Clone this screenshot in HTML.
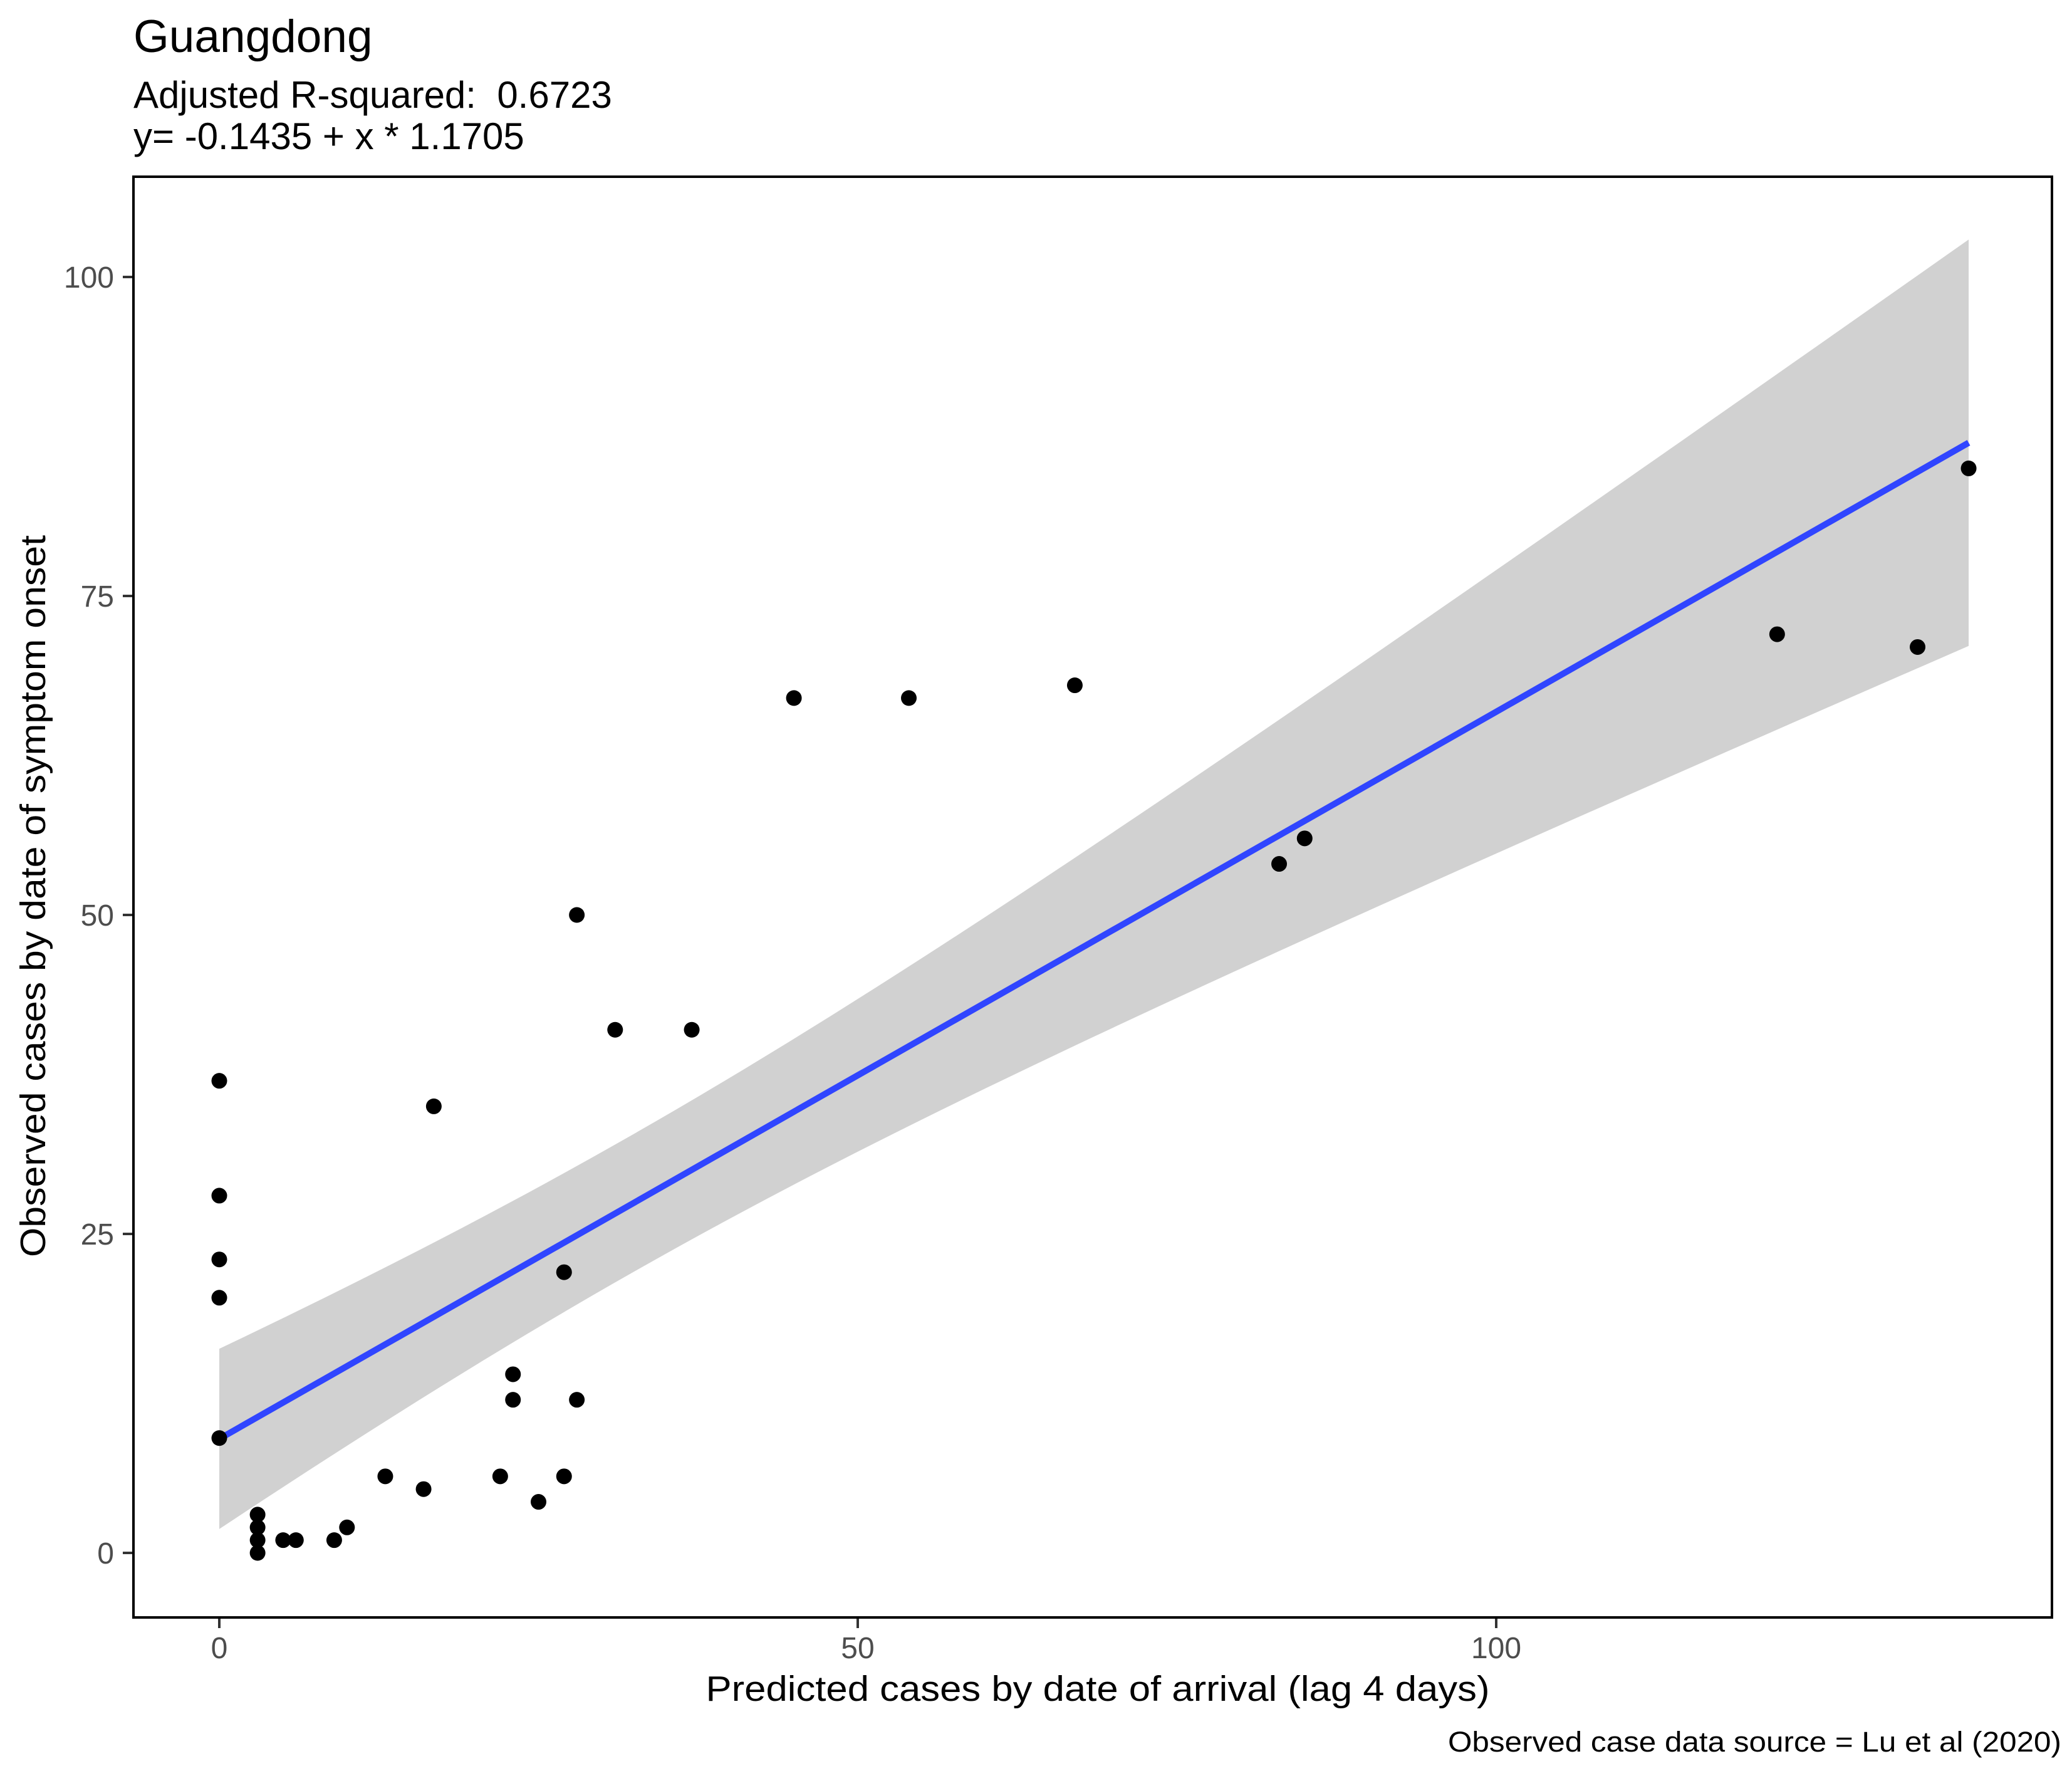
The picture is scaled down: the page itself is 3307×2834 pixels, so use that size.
<!DOCTYPE html>
<html><head><meta charset="utf-8"><style>
html,body{margin:0;padding:0;background:#fff;}
svg{display:block;font-family:"Liberation Sans",sans-serif;}
text{white-space:pre;}
</style></head><body>
<svg id="chart" width="3307" height="2834" viewBox="0 0 3307 2834" xmlns="http://www.w3.org/2000/svg" xml:space="preserve">
<rect width="3307" height="2834" fill="#fff"/>
<text x="213" y="83" font-size="73" fill="#000">Guangdong</text>
<text x="213" y="172" font-size="60" fill="#000">Adjusted R-squared:  0.6723</text>
<text x="213" y="238" font-size="60" fill="#000">y= -0.1435 + x * 1.1705</text>
<g id="ribbon-layer"></g>
<g id="line-layer"></g>
<g id="point-layer"></g>
<rect x="213" y="282" width="3062" height="2299" fill="none" stroke="#000" stroke-width="4"/>
<g id="axis-layer"></g>
<text x="1752" y="2714" font-size="57" text-anchor="middle" textLength="1251" lengthAdjust="spacingAndGlyphs" fill="#000">Predicted cases by date of arrival (lag 4 days)</text>
<text transform="translate(72,1430) rotate(-90)" font-size="57" text-anchor="middle" textLength="1152" lengthAdjust="spacingAndGlyphs" fill="#000">Observed cases by date of symptom onset</text>
<text x="3290" y="2795" font-size="45" text-anchor="end" textLength="979" lengthAdjust="spacingAndGlyphs" fill="#000">Observed case data source = Lu et al (2020)</text>
</svg>
<script>
const xValues = [0,0,0,0,0,3,3,3,3,5,6,9,10,13,16,16.8,22,23,23,25,27,27,28,28,31,37,45,54,67,83,85,122,133,137];
const yValues = [37,28,23,20,9,3,2,1,0,1,1,1,2,6,5,35,6,14,12,4,6,22,50,12,41,41,67,67,68,54,56,72,71,85];
const xTicks = [0,50,100];
const yTicks = [0,25,50,75,100];

const NS='http://www.w3.org/2000/svg';
function X(v){return 350+v*20.38;}
function Y(v){return 2478-v*20.36;}
function mk(tag,attrs,parent){const e=document.createElementNS(NS,tag);for(const k in attrs)e.setAttribute(k,attrs[k]);parent.appendChild(e);return e;}

const n=xValues.length;
const mx=xValues.reduce((a,b)=>a+b,0)/n, my=yValues.reduce((a,b)=>a+b,0)/n;
let sxx=0,sxy=0;for(let i=0;i<n;i++){sxx+=(xValues[i]-mx)**2;sxy+=(xValues[i]-mx)*(yValues[i]-my);}
const b=sxy/sxx,a=my-b*mx;
let sse=0;for(let i=0;i<n;i++){sse+=(yValues[i]-a-b*xValues[i])**2;}
const s=Math.sqrt(sse/(n-2)), t=2.037;
const xmin=Math.min(...xValues),xmax=Math.max(...xValues);
const up=[],lo=[];
for(let k=0;k<=80;k++){const xv=xmin+(xmax-xmin)*k/80;const fit=a+b*xv;const se=s*Math.sqrt(1/n+(xv-mx)**2/sxx);up.push(X(xv)+','+Y(fit+t*se));lo.unshift(X(xv)+','+Y(fit-t*se));}
const rib=mk('polygon',{points:up.concat(lo).join(' '),fill:'#999999','fill-opacity':'0.45'},document.getElementById('ribbon-layer'));


const ln=mk('line',{x1:X(xmin),y1:Y(a+b*xmin),x2:X(xmax),y2:Y(a+b*xmax),stroke:'#3045ff','stroke-width':'10'},document.getElementById('line-layer'));



const pl=document.getElementById('point-layer');
for(let i=0;i<n;i++){
  const c=mk('circle',{cx:X(xValues[i]),cy:Y(yValues[i]),r:12.5,fill:'#000'},pl);
  
  
}
const ax=document.getElementById('axis-layer');
xTicks.forEach(v=>{
  const tk=mk('line',{x1:X(v),y1:2583,x2:X(v),y2:2598,stroke:'#333','stroke-width':'4'},ax);
  
  
  const tx=mk('text',{x:X(v),y:2646,'font-size':'48','text-anchor':'middle',fill:'#4d4d4d'},ax);
  tx.textContent=v;
  
  
});
yTicks.forEach(v=>{
  const tk=mk('line',{x1:196,y1:Y(v),x2:211,y2:Y(v),stroke:'#333','stroke-width':'4'},ax);
  
  
  const tx=mk('text',{x:182,y:Y(v)+17,'font-size':'48','text-anchor':'end',fill:'#4d4d4d'},ax);
  tx.textContent=v;
  
  
});
</script>
</body></html>
